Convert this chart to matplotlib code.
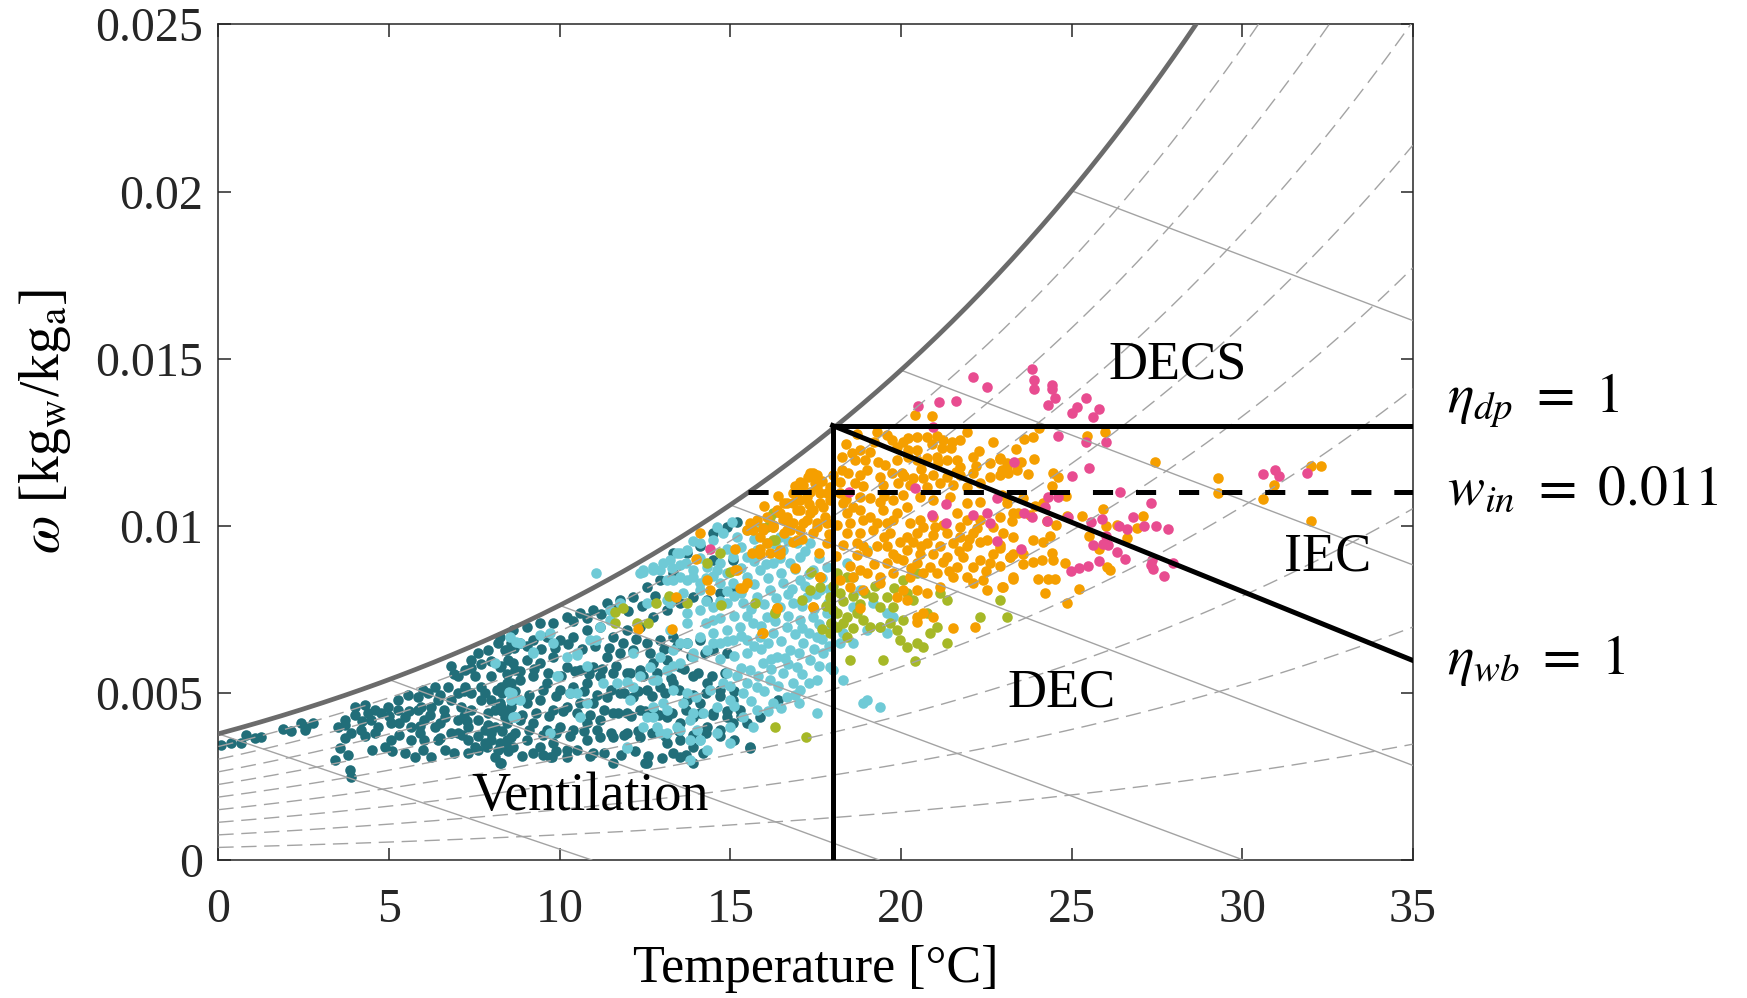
import numpy as np
import matplotlib
matplotlib.use("Agg")
import matplotlib.pyplot as plt

plt.rcParams['font.family'] = ['Liberation Serif', 'DejaVu Serif']
plt.rcParams['mathtext.fontset'] = 'stix'
plt.rcParams['lines.scale_dashes'] = False

# ---------------- data (T in degC, w in g/kg) ----------------
teal_pts = [
(0.09,3.44),(0.38,3.51),(0.67,3.49),(0.82,3.74),(1.06,3.64),(1.26,3.69),(1.89,3.91),(2.14,3.87),(2.43,4.11),(2.58,3.99),
(2.77,4.09),(2.53,3.89),(3.50,3.99),(3.55,3.34),(3.80,3.14),(3.41,2.99),(3.85,2.69),(3.90,2.49),(3.70,4.19),(3.99,4.59),
(4.29,4.64),(3.90,3.79),(4.19,3.89),(4.48,4.19),(4.77,4.39),(4.68,3.99),(5.07,4.09),(4.97,4.59),(5.26,4.79),(5.07,3.59),
(4.87,3.39),(5.46,4.29),(5.65,3.59),(5.46,3.19),(5.75,3.09),(5.85,4.89),(6.14,4.99),(6.24,4.59),(6.04,4.19),(6.34,3.99),
(6.43,3.59),(6.24,3.09),(6.63,3.29),(6.83,3.79),(6.63,4.29),(6.83,4.79),(6.73,5.19),(6.83,5.79),(7.02,5.49),(7.22,5.69),
(7.41,5.98),(7.61,6.18),(7.90,6.28),(8.19,6.48),(8.39,6.28),(8.58,6.48),(7.51,5.49),(7.41,4.99),(7.70,5.19),(7.99,5.49),
(8.29,5.79),(8.49,5.98),(8.68,5.69),(8.58,5.29),(8.29,5.19),(7.99,4.79),(7.70,4.79),(7.41,4.49),(7.12,4.59),(7.02,4.19),
(7.31,3.99),(7.61,4.19),(7.80,3.89),(8.10,3.99),(8.39,4.29),(8.58,4.59),(8.29,4.59),(8.10,4.49),(7.02,3.79),(7.31,3.59),
(7.51,3.39),(7.80,3.49),(7.99,3.59),(8.19,3.29),(8.39,3.39),(8.58,3.69),(8.29,2.89),(8.10,3.09),(7.31,3.19),(4.38,4.39),
(5.26,4.49),(5.85,4.49),(5.65,3.99),(6.04,3.59),(5.95,4.59),(6.43,4.79),(6.34,5.19),(7.02,4.99),(7.22,5.19),
(4.00,4.35),(4.60,4.50),(5.00,4.30),(5.60,4.45),(6.20,4.35),(6.60,4.50),(7.20,4.30),(7.90,4.40),(8.30,4.45),
(3.70,3.65),(4.30,3.70),(4.60,3.80),(5.30,3.75),(5.90,3.80),(6.50,3.65),(7.15,3.75),(7.60,3.70),(8.00,3.80),(8.45,3.60),
(5.55,4.95),(6.00,5.10),(6.50,4.95),(7.20,5.05),(7.80,5.00),(8.15,5.10),(6.90,5.55),(7.40,5.75),(7.70,5.85),(8.00,5.95),
(4.50,3.30),(5.10,3.25),(6.00,3.30),(6.90,3.20),(7.60,3.30),(3.70,4.05),(4.20,4.15),(5.30,4.10),(5.90,4.00),(6.50,4.10),
(7.30,4.15),(7.90,4.05),
(8.25,6.68),(8.64,6.88),(9.03,6.98),(9.42,7.08),(9.81,7.08),(10.21,7.28),(10.60,7.38),(10.99,7.48),(11.38,7.68),(11.77,7.78),
(12.16,7.88),(12.55,8.18),(12.94,8.38),(13.33,8.58),(13.72,9.18),(13.33,9.18),(14.11,9.38),(14.50,9.77),(14.89,9.97),(15.19,10.12),
(14.50,8.98),(15.09,8.98),(8.45,6.28),(8.84,6.48),(9.23,6.58),(9.62,6.68),(10.01,6.58),(10.40,6.68),(10.79,6.88),(11.18,6.98),
(11.57,6.68),(11.96,6.88),(12.35,6.98),(12.75,7.28),(13.14,7.48),(13.53,7.68),(13.92,7.88),(14.31,7.78),(14.70,7.98),(15.09,8.08),
(8.25,5.78),(8.64,5.88),(9.03,5.98),(9.42,5.88),(9.81,6.08),(10.21,5.78),(10.60,5.69),(10.99,5.78),(11.38,6.08),(11.77,6.18),
(12.16,6.28),(12.55,6.48),(12.94,6.58),(13.33,6.68),(13.72,6.48),(14.11,6.58),(14.50,6.28),(14.89,6.18),
(8.45,5.29),(8.84,5.39),(9.23,5.49),(9.62,5.29),(10.01,5.09),(10.40,5.19),(10.79,5.29),(11.18,5.49),(11.57,5.59),(11.96,5.59),
(12.35,5.69),(12.75,5.88),(13.14,5.98),(13.53,5.78),(13.92,5.49),(14.31,5.29),(14.70,5.09),(15.09,4.79),
(8.25,4.69),(8.64,4.79),(9.03,4.69),(9.42,4.79),(9.81,4.49),(10.21,4.59),(10.60,4.69),(10.99,4.69),(11.38,4.89),(11.77,4.99),
(12.16,4.89),(12.55,5.09),(12.94,5.19),(13.33,5.29),(13.72,4.79),(14.11,4.69),(14.50,4.39),(14.89,4.29),(15.29,4.49),
(8.45,4.09),(8.84,4.19),(9.23,4.09),(9.62,3.89),(10.01,3.99),(10.40,3.89),(10.79,4.09),(11.18,4.19),(11.57,4.39),(11.96,4.39),
(12.35,4.49),(12.75,4.49),(13.14,4.29),(13.53,4.09),(13.92,4.29),(14.31,3.99),(14.70,3.89),(15.09,4.09),(15.48,4.09),(15.87,4.29),
(16.36,4.69),(8.25,3.49),(8.64,3.39),(9.03,3.59),(9.42,3.39),(9.81,3.49),(10.21,3.29),(10.79,3.59),(11.18,3.69),(11.57,3.69),
(11.96,3.79),(12.35,3.69),(12.75,3.79),(13.14,3.49),(13.53,3.59),(13.92,3.39),(13.33,3.19),(12.55,2.89),(13.92,2.89),(15.58,3.34),
(9.23,3.19),(9.72,3.09),(10.21,3.09),(11.57,2.89),(10.99,3.19),(12.50,2.89),(13.53,3.09),(9.77,3.09),
(8.25,2.89),(7.86,3.39),(15.58,3.39),(16.41,4.79),
(10.40,7.15),(10.80,7.25),(11.20,7.35),(11.60,7.50),(12.00,7.45),(12.40,7.60),(12.80,7.90),
(8.65,6.35),(9.05,6.40),(9.45,6.30),(9.85,6.35),(10.25,6.45),(10.65,6.30),(11.05,6.40),(11.45,6.35),(11.85,6.50),(12.25,6.60),
(12.65,6.20),(13.05,6.30),(13.45,6.40),(13.85,6.10),(14.25,6.20),
(8.45,5.55),(8.85,5.65),(9.25,5.70),(9.65,5.60),(10.05,5.50),(10.45,5.65),(10.85,5.55),(11.25,5.70),(11.65,5.80),(12.05,5.60),
(12.45,5.50),(12.85,5.60),(13.25,5.45),(13.65,5.70),(14.05,5.60),(14.45,5.50),(14.85,5.60),
(8.30,5.00),(8.70,5.05),(9.10,4.95),(9.50,5.10),(9.90,4.90),(10.30,5.00),(10.70,5.05),(11.10,4.95),(11.50,5.10),(11.90,5.00),
(12.30,5.05),(12.70,4.90),(13.10,5.00),(13.50,5.10),(13.90,4.95),(14.30,5.00),(14.70,4.90),(15.10,5.05),
(8.50,4.45),(8.90,4.35),(9.30,4.40),(9.70,4.30),(10.10,4.45),(10.50,4.40),(10.90,4.35),(11.30,4.50),(11.70,4.40),(12.10,4.30),
(12.50,4.45),(12.90,4.35),(13.30,4.40),(13.70,4.50),(14.10,4.40),(14.50,4.35),(14.90,4.45),(15.30,4.30),
(8.30,3.85),(8.70,3.80),(9.10,3.90),(9.50,3.75),(9.90,3.80),(10.30,3.70),(10.70,3.85),(11.10,3.90),(11.50,3.80),(11.90,3.75),
(12.30,3.85),(12.70,3.80),(13.10,3.70),(13.50,3.85),(13.90,3.75),(14.30,3.80),(14.70,3.70),(15.10,3.60),
(8.50,3.25),(8.90,3.10),(9.50,3.15),(9.90,3.25),(10.50,3.30),(10.90,3.10),(11.30,3.20),(11.80,3.15),(12.20,3.25),(12.60,3.10),
(13.00,3.05),(13.70,3.15),(14.20,3.20),
]
cyan_pts = [
(12.45,8.68),(12.74,8.78),(13.04,8.88),(13.43,9.18),(13.72,9.28),(14.11,9.47),(14.50,9.57),(14.80,9.77),(15.19,9.67),(15.48,9.87),
(15.87,9.97),(16.16,10.07),(16.46,9.67),(13.14,8.38),(13.53,8.48),(13.92,8.68),(14.31,8.78),(14.70,8.88),(15.09,9.08),(15.48,9.08),
(15.77,9.28),(16.07,9.47),(16.55,9.28),(16.95,9.47),(17.34,9.47),(17.04,9.08),(16.75,8.88),(16.26,8.88),(15.87,8.68),(15.48,8.48),
(15.09,8.28),(14.70,8.28),(14.11,8.08),(13.62,7.98),(13.23,7.68),(13.72,7.38),(14.11,7.48),(14.50,7.58),(14.89,7.68),(15.38,7.68),
(15.77,7.88),(16.16,8.08),(16.55,8.28),(17.04,8.38),(17.43,8.68),(17.82,8.78),(17.63,8.08),(17.24,7.88),(16.85,7.68),(16.46,7.58),
(16.07,7.28),(15.68,7.08),(15.28,6.98),(14.89,6.88),(14.50,6.78),(14.11,6.68),(13.72,6.48),(13.33,6.28),(12.94,6.08),(12.65,5.78),
(12.35,5.49),(12.16,5.19),(12.74,5.39),(13.14,5.69),(13.53,5.88),(13.92,6.08),(14.31,6.28),(14.70,6.48),(15.09,6.58),(15.48,6.58),
(15.87,6.68),(16.26,6.78),(16.65,6.98),(17.04,7.18),(17.43,7.28),(17.82,7.38),(17.92,6.88),(17.53,6.68),(17.14,6.48),(16.75,6.28),
(16.36,6.08),(15.97,5.88),(15.58,5.69),(15.19,5.49),(14.80,5.29),(14.41,5.09),(14.01,4.89),(13.62,4.69),(13.14,4.49),(12.74,4.29),
(12.45,3.99),(12.94,3.79),(13.43,3.99),(13.82,4.19),(14.21,4.39),(14.60,4.59),(14.99,4.79),(15.38,4.99),(15.77,5.19),(16.16,5.39),
(16.55,5.59),(16.95,5.78),(17.34,5.98),(17.73,6.18),(17.92,5.78),(17.53,5.39),(17.04,5.09),(16.65,4.89),(16.26,4.69),(15.77,4.49),
(15.38,4.29),(14.99,3.99),(14.60,3.79),(14.11,3.59),(17.53,4.39),(16.85,5.29),(18.31,5.39),(18.90,4.69),(19.00,4.79),(19.39,4.59),
(18.02,5.69),(15.68,3.99),(14.99,3.49),(18.41,8.88),(18.61,8.48),(19.00,9.28),(18.80,8.08),(19.19,7.68),(18.61,7.58),(18.31,6.78),
(18.21,6.48),(18.61,6.48),(19.00,6.88),(19.39,6.98),(19.58,6.78),(19.78,7.28),(19.58,7.38),
(8.55,6.68),(9.23,6.23),(9.42,6.73),(10.50,6.13),(10.89,6.58),(11.48,7.18),(11.08,8.58),(12.35,8.58),(12.75,8.68),(13.23,8.98),
(13.53,8.83),(13.72,8.38),(14.11,8.28),(14.60,8.68),(11.28,5.29),(11.67,5.29),(10.60,4.29),(12.84,5.39),(13.33,5.09),(13.04,4.69),
(11.96,3.39),(14.02,3.89),(14.11,3.59),(13.82,2.99),(14.31,3.29),(9.91,5.49),(8.64,4.29),(8.84,4.79),(10.21,6.08),(9.81,6.48),
(12.55,7.68),(13.72,7.08),(14.50,7.18),(8.84,6.48),(9.23,6.18),(8.59,4.99),(8.69,4.29),(9.72,6.78),(10.50,6.18),(9.96,5.49),
(10.79,5.79),(10.50,4.99),(10.79,4.69),(11.18,6.98),(11.48,7.48),(11.77,7.68),(12.45,8.63),(12.94,8.68),(13.53,9.18),(13.23,6.88),
(13.53,6.48),(12.16,6.18),(11.96,5.34),(12.06,4.79),(12.55,4.29),(12.74,4.59),(12.84,3.99),(11.96,3.34),(13.14,3.79),(13.53,3.89),
(13.82,3.59),(13.92,4.39),(13.72,4.99),(13.33,5.79),(13.92,6.18),(13.14,7.78),(13.33,8.38),(13.92,8.48),(11.08,6.58),(10.30,4.99),
(9.72,3.79),(8.10,5.89),(8.53,5.04),(8.58,4.79),(8.68,4.29),(8.73,6.53),
(14.90,9.30),(15.30,9.35),(15.70,9.60),(16.30,9.45),(16.70,9.55),(17.20,9.25),(17.60,9.05),
(14.50,8.50),(14.90,8.60),(15.30,8.75),(15.70,8.95),(16.05,8.85),(16.45,9.05),(16.90,8.70),(17.30,8.55),(17.70,8.45),
(14.30,8.45),(14.90,8.05),(15.30,8.00),(15.70,8.25),(16.10,8.45),(16.50,8.60),(16.80,8.10),(17.20,8.20),(17.50,7.95),(17.90,8.10),
(14.30,7.75),(14.70,7.75),(15.10,7.90),(15.60,7.50),(16.00,7.65),(16.35,7.85),(16.70,7.95),(17.10,7.60),(17.45,7.50),(17.85,7.70),
(14.30,7.10),(14.70,7.25),(15.10,7.30),(15.50,7.30),(15.90,7.00),(16.30,7.15),(16.70,7.30),(17.10,6.95),(17.60,7.05),(17.95,7.10),
(14.50,6.50),(14.90,6.55),(15.30,6.70),(15.70,6.40),(16.10,6.50),(16.50,6.55),(16.90,6.75),(17.30,6.80),(17.70,6.60),
(14.70,6.00),(15.10,6.10),(15.50,6.20),(15.90,6.30),(16.20,6.00),(16.60,6.05),(17.00,6.20),(17.45,6.30),(17.90,6.40),
(14.90,5.60),(15.30,5.75),(15.80,5.50),(16.20,5.70),(16.70,5.85),(17.10,5.55),(17.60,5.80),
(15.00,5.20),(15.50,5.30),(16.00,5.05),(16.40,5.20),(16.90,4.95),(17.30,5.30),
(15.10,4.60),(15.60,4.75),(16.10,4.45),(16.50,4.55),(17.00,4.70),
(13.30,8.75),(13.70,8.90),(14.10,9.05),(13.90,9.55),(14.60,9.95),(15.05,10.10),
]
olive_pts = [
(16.16,10.27),(16.26,9.57),(16.31,7.43),(17.38,8.63),(17.63,8.18),(17.34,8.08),(17.09,7.78),(18.12,8.58),(18.41,8.48),(18.22,7.98),
(18.12,7.38),(18.41,7.28),(18.70,7.38),(18.90,7.18),(18.12,6.98),(18.41,6.68),(18.51,5.98),(19.19,7.88),(19.39,7.58),(19.58,7.88),
(19.78,7.58),(20.07,8.38),(20.17,7.98),(20.36,7.78),(20.46,8.58),(19.09,6.98),(19.39,6.98),(19.68,7.08),(19.88,6.88),(20.07,7.18),
(19.97,6.58),(20.17,6.38),(20.46,6.48),(20.66,6.38),(20.85,6.78),(21.05,6.98),(20.76,7.38),(21.15,7.98),(21.34,7.78),(21.34,6.48),
(22.32,7.28),(22.90,7.78),(23.10,7.28),(19.48,5.98),(20.41,5.94),(16.07,9.97),
(11.62,7.43),(11.87,7.53),(11.62,7.08),(12.26,7.08),(12.60,7.08),(12.82,7.68),(13.21,7.90),(13.72,7.68),(14.31,8.90),(14.70,9.20),
(14.72,7.63),(15.72,7.70),(16.31,7.40),(16.31,3.99),(16.26,10.37),(16.31,9.58),(14.99,8.63),(17.21,3.69),(18.02,7.48),(17.92,6.78),
(17.92,7.88),(17.80,7.60),(18.00,8.20),(18.30,7.75),(18.60,7.90),(18.80,7.65),(17.95,7.10),(18.30,7.10),(18.60,6.95),(17.70,6.90),
(18.95,8.00),(19.25,8.20),(19.80,8.15),
]
orange_pts = [
(20.41,13.31),(20.92,13.29),(19.58,12.72),(19.73,12.57),(20.05,12.52),(20.22,12.62),(20.46,12.67),(20.76,12.67),(21.05,12.69),(21.24,12.57),
(21.49,12.52),(21.73,12.57),(21.93,12.82),(22.69,12.52),(21.47,12.32),(21.19,12.32),(20.46,12.27),(20.22,12.27),(18.26,12.07),(18.56,12.17),
(18.80,12.27),(19.09,12.22),(18.65,11.97),(18.95,11.97),(19.34,11.92),(19.53,11.82),(19.88,11.97),(20.22,12.07),(20.46,11.97),(20.76,12.02),
(21.05,12.07),(21.34,11.97),(21.63,11.97),(21.73,11.77),(22.12,12.07),(22.61,11.87),(22.90,12.02),(23.10,11.77),(23.39,11.67),(17.34,11.57),
(17.53,11.52),(18.02,11.52),(18.26,11.67),(18.46,11.57),(18.80,11.52),(19.00,11.67),(19.39,11.47),(19.73,11.57),(20.02,11.57),(20.36,11.42),
(20.66,11.42),(20.95,11.52),(21.34,11.47),(21.73,11.52),(22.12,11.57),(22.61,11.47),(22.90,11.52),(23.15,11.57),(17.14,11.22),(17.48,11.27),
(18.22,11.32),(18.65,11.27),(19.48,11.22),(19.92,11.27),(20.27,11.22),(20.76,11.17),(21.15,11.27),(21.54,11.22),(21.93,11.17),(22.32,11.27),
(16.85,10.97),(17.34,11.02),(17.82,10.97),(18.22,10.97),(18.80,10.87),(19.09,10.82),(19.39,10.72),(19.78,10.77),(20.07,10.92),(20.56,10.87),
(20.95,10.77),(21.44,10.87),(21.93,10.67),(22.32,10.72),(23.10,10.67),(16.56,10.67),(17.04,10.77),(17.63,10.67),(18.31,10.67),(18.61,10.57),
(16.46,10.37),(16.95,10.47),(17.34,10.37),(17.78,10.27),(18.41,10.37),(18.80,10.47),(19.09,10.27),(19.48,10.47),(19.88,10.37),(20.17,10.57),
(20.56,10.17),(20.95,10.27),(21.63,10.37),(21.93,10.17),(22.32,10.17),(22.90,10.27),(23.29,10.37),(16.26,10.02),(16.75,10.07),(17.14,10.07),
(17.53,9.97),(18.12,10.02),(18.51,10.07),(18.90,10.17),(19.29,10.07),(19.58,10.07),(19.78,10.17),(20.27,10.07),(20.66,9.97),(21.24,10.02),
(21.73,9.97),(22.22,9.92),(22.71,9.97),(15.97,9.87),(16.56,9.77),(17.04,9.87),(17.43,9.77),(18.41,9.77),(18.80,9.77),(19.19,9.87),
(19.68,9.77),(20.17,9.67),(20.46,9.77),(20.95,9.72),(21.34,9.77),(21.73,9.67),(22.12,9.77),(22.51,9.58),(23.00,9.77),(16.07,9.47),
(16.85,9.52),(17.82,9.47),(18.31,9.42),(18.70,9.47),(19.29,9.38),(19.58,9.38),(19.97,9.52),(20.36,9.52),(20.76,9.47),(21.15,9.38),
(21.54,9.47),(21.93,9.38),(22.32,9.52),(22.90,9.42),(23.29,9.17),(15.87,9.17),(16.46,9.17),(18.70,9.12),(19.00,9.23),(19.78,9.17),
(20.17,9.28),(20.56,9.17),(20.95,9.17),(21.34,9.08),(21.83,9.08),(22.32,8.98),(22.71,9.17),(23.20,9.08),(19.58,8.88),(20.07,8.98),
(20.46,8.88),(20.85,8.78),(21.24,8.93),(21.63,8.78),(22.12,8.78),(22.61,8.88),(18.80,8.68),(18.22,8.38),(18.61,8.48),(19.00,8.58),
(19.39,8.48),(19.78,8.58),(20.27,8.48),(20.66,8.58),(21.05,8.58),(21.54,8.48),(21.93,8.48),(22.42,8.38),(17.63,8.48),(18.51,8.18),
(18.90,8.08),(19.39,8.28),(20.07,8.08),(20.46,8.08),(20.76,7.98),(21.15,8.18),(22.12,8.28),(22.51,8.08),(23.00,8.18),(23.29,8.48),
(17.43,7.58),(16.36,7.53),(18.80,7.53),(19.88,7.88),(20.17,7.78),(20.46,7.28),(20.95,7.28),(20.66,7.38),(21.54,6.93),(22.17,6.98),
(15.97,6.78),(20.46,7.13),
(24.06,12.92),(23.61,12.59),(23.88,12.65),(23.37,12.29),(22.90,11.99),(23.10,11.87),(23.51,11.92),(23.90,12.00),(22.95,11.67),(23.73,11.54),
(24.47,11.57),(24.61,11.47),(24.42,11.19),(24.17,10.67),(24.84,10.89),(22.95,10.92),(23.59,10.82),(23.93,10.60),(23.44,10.39),(23.25,10.15),
(23.78,10.32),(24.27,10.13),(24.55,10.02),(24.86,10.29),(25.30,10.30),(25.91,10.49),(26.01,10.00),(26.32,10.02),(27.08,10.30),(26.93,9.94),
(26.62,9.62),(25.52,9.70),(25.81,9.30),(23.29,9.65),(23.86,9.57),(24.15,9.52),(24.37,9.69),(22.90,9.33),(23.20,9.08),(22.90,8.80),
(23.57,8.86),(23.88,8.93),(24.13,8.99),(24.47,8.98),(24.81,8.90),(23.59,9.16),(24.42,9.20),(26.03,8.78),(26.13,8.68),(23.29,8.40),
(24.03,8.40),(24.32,8.40),(24.52,8.40),(22.95,8.18),(24.22,8.00),(25.22,8.10),(24.86,7.70),(25.46,12.69),(25.98,12.82),(27.45,11.90),
(29.30,11.42),(29.30,10.99),(30.62,10.79),(30.93,11.22),(32.02,11.79),(32.30,11.79),(32.02,10.15),
(17.43,11.57),(17.29,11.47),(17.04,11.32),(17.53,11.17),(17.24,10.87),(16.95,10.97),(16.65,10.67),(16.36,10.47),(16.07,10.27),(15.77,10.17),
(15.58,10.07),(15.48,9.87),(15.87,9.67),(16.26,9.97),(16.65,10.27),(17.04,10.47),(17.43,10.47),(17.73,10.57),(17.92,10.77),(17.92,11.17),
(17.63,10.97),(16.85,10.07),(17.24,10.17),(17.53,10.07),(17.82,10.07),(16.65,9.87),(14.11,9.79),(14.01,9.00),(15.14,9.30),(14.31,8.38),
(13.41,7.88),(13.28,6.90),(12.31,6.90),(15.19,8.68),(15.38,8.13),(16.36,7.53),(15.92,6.78),(16.90,8.73),(17.43,7.58),(17.63,8.48),
(16.46,9.28),(14.41,8.08),(15.14,8.68),(15.29,8.13),(15.48,8.28),(15.63,9.20),(15.87,9.30),(16.16,9.18),(16.41,9.20),(15.68,9.87),
(15.97,9.93),(16.26,9.97),(16.55,10.17),(16.85,10.67),(16.75,9.87),(16.95,9.58),
(16.00,10.60),(16.40,10.90),(16.90,11.20),(17.30,10.65),(17.70,11.35),(17.10,9.60),(17.60,9.20),(17.90,9.75),(18.10,9.10),(18.50,8.80),
(18.90,9.40),(19.20,8.85),(19.50,9.65),(19.90,9.05),(20.30,8.75),(20.60,9.40),(21.00,9.95),(21.40,8.65),(21.70,9.25),(22.00,9.60),
(22.50,8.65),(18.40,10.80),(18.90,11.20),(19.50,10.90),(20.10,11.50),(20.60,11.70),(21.10,11.90),(21.60,11.60),(22.20,11.80),(19.20,12.50),
(19.90,12.35),(20.90,12.45),(22.30,12.25),(18.40,12.45),(18.70,12.75),(19.30,12.80),
]
pink_pts = [
(23.85,14.69),(23.91,14.36),(23.91,14.09),(24.42,14.21),(24.42,14.08),(24.51,13.81),(24.32,13.61),(25.42,13.81),(25.17,13.56),(25.00,13.38),
(25.81,13.49),(25.62,13.25),(24.61,12.69),(25.42,12.52),(26.01,12.52),(23.31,11.92),(25.51,11.72),(25.02,11.50),(26.42,11.00),(27.32,10.69),
(24.61,10.87),(24.32,10.87),(24.22,10.57),(23.61,10.37),(23.83,10.25),(24.27,10.14),(24.90,10.27),(25.56,10.10),(25.88,10.20),(26.81,10.25),
(27.12,10.00),(27.47,10.00),(27.82,9.90),(26.40,10.00),(26.62,9.90),(26.01,9.70),(25.62,9.42),(25.93,9.45),(26.08,9.43),(26.32,9.21),
(26.57,9.00),(25.81,8.95),(25.49,8.81),(25.23,8.73),(24.97,8.66),(27.32,8.83),(27.38,8.70),(27.71,8.50),(27.98,8.90),(23.51,9.30),
(30.62,11.55),(30.96,11.67),(31.08,11.49),(31.91,11.59),(27.37,8.98),(22.12,14.46),(22.51,14.16),(20.51,13.59),(21.12,13.70),(21.61,13.74),
(20.95,12.97),(18.49,11.00),(20.41,11.12),(21.31,10.65),(20.92,10.32),(21.32,10.09),(22.10,10.32),(22.51,10.39),(22.61,10.09),(22.82,9.55),
(22.82,10.82),(14.40,9.30),
]
groups = [
    (teal_pts, '#216e79'),
    (cyan_pts, '#6fcad6'),
    (olive_pts, '#a6b827'),
    (orange_pts, '#f59f00'),
    (pink_pts, '#e84c90'),
]

# psychrometric chart setup
P_atm = 101325.0
rh_levels = [0.1, 0.2, 0.3, 0.4, 0.5, 0.6, 0.7, 0.8, 0.9]
wb_T0 = [0, 5, 10, 15, 20, 25]              # start on saturation curve
wb_T1 = [10.94, 19.36, 30.03, 35, 35, 35]   # end temperature
wb_w1 = [0.0, 0.0, 0.0, 2.83, 8.83, 16.14]  # end humidity (g/kg)

# process limits
T_dp = 18.0
w_dp = 13.0      # g/kg
w_in = 11.0      # g/kg
w_wb_end = 5.97  # g/kg at T = 35

region_labels = ['DECS', 'IEC', 'DEC', 'Ventilation']
region_T = [28.1, 32.5, 24.7, 10.9]
region_w = [14.8, 9.07, 5.0, 1.9]


def w_sat(T, phi=1.0):
    pws = 611.2 * np.exp(17.62 * T / (243.12 + T))
    return 0.622 * phi * pws / (P_atm - phi * pws)


fig = plt.figure(figsize=(17.47, 9.98), dpi=100)
ax = fig.add_axes([0.1250, 0.1383, 0.6837, 0.8372])

for pts, col in groups:
    T = np.array([p[0] for p in pts])
    w = np.array([p[1] for p in pts]) / 1000.0
    ax.plot(T, w, 'o', ms=7.6, mfc=col, mec='none', zorder=2)

Tg = np.linspace(0, 35, 400)
for phi in rh_levels:
    ax.plot(Tg, w_sat(Tg, phi), color='#a3a3a3', lw=1.0,
            linestyle=(0, (11, 5.5)), zorder=3)
for t0, t1, w1 in zip(wb_T0, wb_T1, wb_w1):
    ax.plot([t0, t1], [w_sat(t0), w1 / 1000.0], color='#a3a3a3', lw=1.0, zorder=3)
ax.plot(Tg, w_sat(Tg), color='#6b6b6b', lw=3.4, zorder=4)

# process lines
ax.plot([T_dp, T_dp], [0, w_dp / 1000], color='k', lw=3.6, zorder=5)
ax.plot([T_dp, 35], [w_dp / 1000, w_dp / 1000], color='k', lw=3.6, zorder=5)
ax.plot([T_dp, 35], [w_dp / 1000, w_wb_end / 1000], color='k', lw=3.6, zorder=5)
Tgs = np.linspace(0, 35, 2000)
T_start = Tgs[np.argmin(np.abs(w_sat(Tgs) - w_in / 1000))]
ax.plot([T_start, 35], [w_in / 1000, w_in / 1000], color='k', lw=3.6,
        linestyle=(0, (14.5, 16.5)), zorder=5)

for lab, tx, wy in zip(region_labels, region_T, region_w):
    ax.text(tx, wy / 1000, lab, fontsize=39, ha='center', va='center', zorder=6)

ax.text(36.0, 0.01373, r'$\eta_{dp}\ =\ 1$', fontsize=40, ha='left', va='center', clip_on=False)
ax.text(36.0, 0.01107, r'$w_{in}\ =\ 0.011$', fontsize=40, ha='left', va='center', clip_on=False)
ax.text(36.0, 0.00598, r'$\eta_{wb}\ =\ 1$', fontsize=40, ha='left', va='center', clip_on=False)

ax.set_xlim(0, 35)
ax.set_ylim(0, 0.025)
ax.set_xticks([0, 5, 10, 15, 20, 25, 30, 35])
ax.set_yticks([0, 0.005, 0.01, 0.015, 0.02, 0.025])
ax.set_yticklabels(['0', '0.005', '0.01', '0.015', '0.02', '0.025'])
ax.tick_params(direction='in', length=9, width=1.1, colors='#262626',
               labelsize=34.5, top=True, right=True)
ax.tick_params(axis='x', pad=20)
ax.tick_params(axis='y', pad=11)
for s in ax.spines.values():
    s.set_color('#262626')
    s.set_linewidth(1.1)

fig.text(0.4669, 0.029, 'Temperature [°C]', fontsize=37.5, ha='center', va='center')
fig.text(0.0255, 0.578, r'$\omega$ [kg$_\mathrm{w}$/kg$_\mathrm{a}$]', fontsize=40,
         rotation=90, ha='center', va='center')

fig.savefig('out.png', dpi=100)
